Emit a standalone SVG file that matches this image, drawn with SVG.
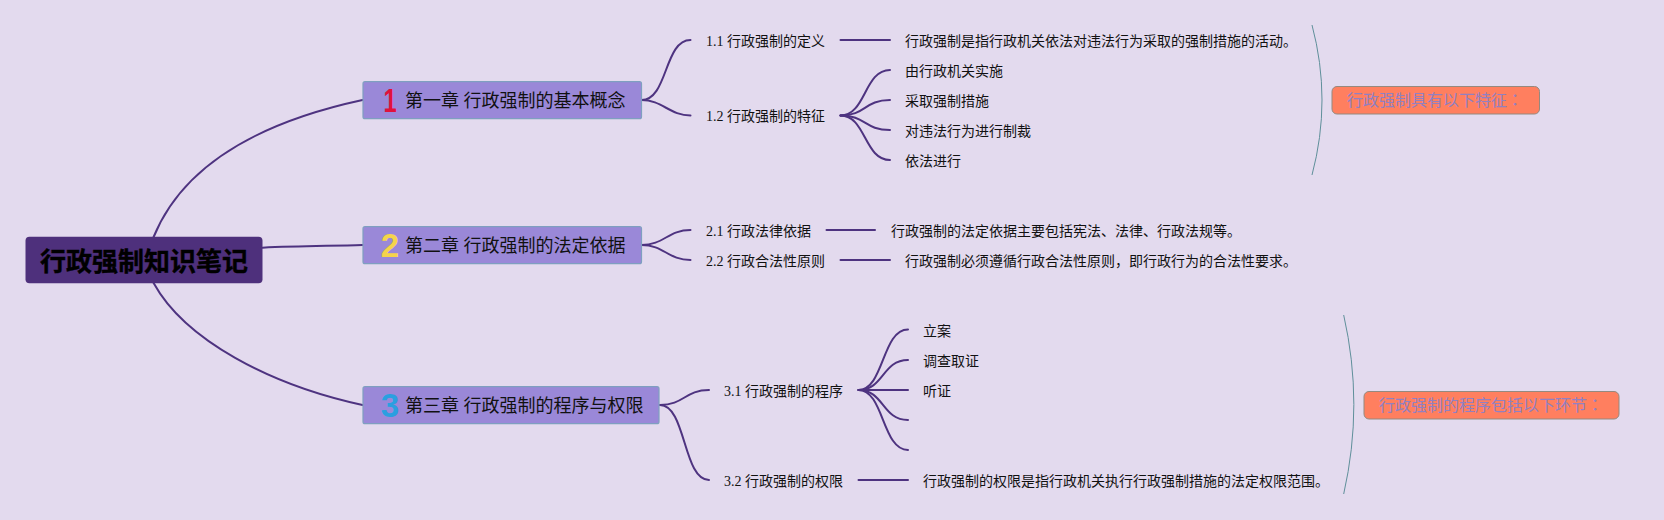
<svg xmlns="http://www.w3.org/2000/svg" width="1664" height="520" viewBox="0 0 1664 520">
<style>
text{font-family:"Liberation Serif","Noto Sans CJK SC",serif;fill:#111}
.leaf{font-size:14px}
.ch{font-size:18px}
.rootT{font-size:26px;font-weight:700;font-family:"Liberation Sans","Noto Sans CJK SC",sans-serif;fill:#000;stroke:#000;stroke-width:.4}
.num{font-size:33px;font-weight:700;font-family:"Liberation Sans",sans-serif;text-anchor:middle}
.note{font-size:16px;fill:#9180c2;font-family:"Liberation Sans","Noto Sans CJK SC",sans-serif}
.chbox{fill:#9a88d8;stroke:#7f9fc0;stroke-width:1.200}
.notebox{fill:#ff7f5f;stroke:#95897f;stroke-width:1}
.c{fill:none;stroke:#4e3380;stroke-width:2;stroke-linecap:round}
.b{fill:none;stroke:#5f8f9a;stroke-width:1}
</style>
<rect width="1664" height="520" fill="#e3daee"/>
<g id="connectors">
<path class="c" d="M153.6 237C185 160 270 120 362.500 100"/>
<path class="c" d="M262.500 247.700C300 246 330 246 362.500 245"/>
<path class="c" d="M153.6 283C185 340 270 385 362.500 405"/>
<path class="c" d="M641.500 100C668 100 664 40 690.500 40"/>
<path class="c" d="M641.500 100C662 100 670 115.500 690.500 115.500"/>
<path class="c" d="M840.500 40H890"/>
<path class="c" d="M840.500 115.500C866 115.500 864 70 890 70"/>
<path class="c" d="M840.500 115.500C866 115.500 864 100 890 100"/>
<path class="c" d="M840.500 115.500C866 115.500 864 130 890 130"/>
<path class="c" d="M840.500 115.500C866 115.500 864 160 890 160"/>
<path class="c" d="M641.500 245C664 245 668 230 690.500 230"/>
<path class="c" d="M641.500 245C664 245 668 260 690.500 260"/>
<path class="c" d="M826.500 230H875"/>
<path class="c" d="M840.500 260H890"/>
<path class="c" d="M660 405C684 405 685 390 709 390"/>
<path class="c" d="M660 405C686 405 683 480 709 480"/>
<path class="c" d="M858.500 390C884 390 882 329.500 908 329.500"/>
<path class="c" d="M858.500 390C884 390 882 360 908 360"/>
<path class="c" d="M858.500 390H908"/>
<path class="c" d="M858.500 390C884 390 882 420 908 420"/>
<path class="c" d="M858.500 390C884 390 882 450 908 450"/>
<path class="c" d="M858.500 480H908"/>
<path class="b" d="M1312 25Q1332 100 1312 175"/>
<path class="b" d="M1343.700 315Q1364 404.500 1343.700 494"/>
</g>
<g id="root"><rect x="25.500" y="236.700" width="237" height="46.500" rx="4" fill="#4e307c"/><text class="rootT" x="40" y="271">行政强制知识笔记</text></g>
<g id="ch1"><rect class="chbox" x="363" y="81.700" width="278.500" height="37" rx="2"/><text class="num" transform="translate(390 112) scale(.72 1)" style="fill:#e0123c">1</text><text class="ch" x="405" y="107">第一章 行政强制的基本概念</text></g>
<g id="ch2"><rect class="chbox" x="363" y="226.700" width="278.500" height="37" rx="2"/><text class="num" x="390" y="257" style="fill:#f5d44a">2</text><text class="ch" x="405" y="252">第二章 行政强制的法定依据</text></g>
<g id="ch3"><rect class="chbox" x="363" y="386.700" width="296" height="37" rx="2"/><text class="num" x="390" y="417" style="fill:#2a9fe0">3</text><text class="ch" x="405" y="412">第三章 行政强制的程序与权限</text></g>
<g id="n11"><text class="leaf" x="706" y="46">1.1 行政强制的定义</text></g>
<g id="n11a"><text class="leaf" x="905" y="46">行政强制是指行政机关依法对违法行为采取的强制措施的活动。</text></g>
<g id="n12"><text class="leaf" x="706" y="121">1.2 行政强制的特征</text></g>
<g id="n12a"><text class="leaf" x="905" y="76">由行政机关实施</text></g>
<g id="n12b"><text class="leaf" x="905" y="106">采取强制措施</text></g>
<g id="n12c"><text class="leaf" x="905" y="136">对违法行为进行制裁</text></g>
<g id="n12d"><text class="leaf" x="905" y="166">依法进行</text></g>
<g id="n21"><text class="leaf" x="706" y="236">2.1 行政法律依据</text></g>
<g id="n21a"><text class="leaf" x="891" y="236">行政强制的法定依据主要包括宪法、法律、行政法规等。</text></g>
<g id="n22"><text class="leaf" x="706" y="266">2.2 行政合法性原则</text></g>
<g id="n22a"><text class="leaf" x="905" y="266">行政强制必须遵循行政合法性原则，即行政行为的合法性要求。</text></g>
<g id="n31"><text class="leaf" x="724" y="396">3.1 行政强制的程序</text></g>
<g id="n31a"><text class="leaf" x="923" y="336">立案</text></g>
<g id="n31b"><text class="leaf" x="923" y="366">调查取证</text></g>
<g id="n31c"><text class="leaf" x="923" y="396">听证</text></g>
<g id="n32"><text class="leaf" x="724" y="486">3.2 行政强制的权限</text></g>
<g id="n32a"><text class="leaf" x="923" y="486">行政强制的权限是指行政机关执行行政强制措施的法定权限范围。</text></g>
<g id="note1"><rect class="notebox" x="1332" y="86.500" width="207.500" height="27.500" rx="5"/><text class="note" x="1347" y="105.500">行政强制具有以下特征<tspan font-family="Noto Sans CJK TC">：</tspan></text></g>
<g id="note2"><rect class="notebox" x="1364" y="391.500" width="255" height="27.500" rx="5"/><text class="note" x="1379" y="410.500">行政强制的程序包括以下环节<tspan font-family="Noto Sans CJK TC">：</tspan></text></g>
</svg>
